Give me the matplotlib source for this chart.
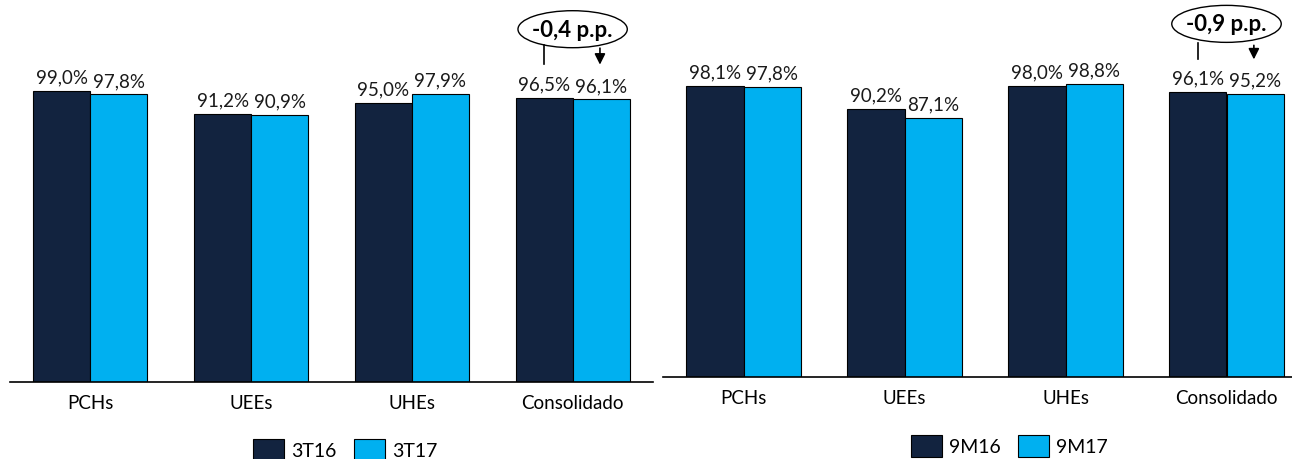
import matplotlib.pyplot as plt
from matplotlib.patches import Ellipse

categories = ['PCHs', 'UEEs', 'UHEs', 'Consolidado']

# left panel: quarter
q_labels = ['3T16', '3T17']
q16 = [99.0, 91.2, 95.0, 96.5]
q17 = [97.8, 90.9, 97.9, 96.1]
q_delta = '-0,4 p.p.'

# right panel: nine months
m_labels = ['9M16', '9M17']
m16 = [98.1, 90.2, 98.0, 96.1]
m17 = [97.8, 87.1, 98.8, 95.2]
m_delta = '-0,9 p.p.'

DARK = '#12233f'
CYAN = '#00b0f0'
W, H = 1292, 460

plt.rcParams['font.family'] = ['Lato', 'DejaVu Sans']


def fmt(v):
    return ('%.1f%%' % v).replace('.', ',')


def panel(fig, left_px, base_px, right_px, px_per_unit, a, b, labels, delta, ell_y, line_top, line_bot, arr_bot, leg_xy):
    ax = fig.add_axes([left_px / W, (H - base_px) / H, (right_px - left_px) / W, base_px / H])
    x = list(range(len(categories)))
    bw = 0.355
    ax.bar([i - bw / 2 for i in x], a, bw, color=DARK, edgecolor='black', linewidth=0.8, label=labels[0])
    ax.bar([i + bw / 2 for i in x], b, bw, color=CYAN, edgecolor='black', linewidth=0.8, label=labels[1])
    ax.set_xlim(-0.5, len(categories) - 0.5)
    ax.set_ylim(0, base_px / px_per_unit)
    for i in x:
        ax.annotate(fmt(a[i]), (i - bw / 2, a[i]), xytext=(0, 4), textcoords='offset points',
                    ha='center', va='bottom', fontsize=13.5, color='#1a1a1a')
        ax.annotate(fmt(b[i]), (i + bw / 2, b[i]), xytext=(0, 4), textcoords='offset points',
                    ha='center', va='bottom', fontsize=13.5, color='#1a1a1a')
    ax.set_xticks(x)
    ax.set_xticklabels(categories, fontsize=13.5)
    ax.tick_params(axis='x', length=0, pad=9)
    ax.set_yticks([])
    for s in ['left', 'right', 'top']:
        ax.spines[s].set_visible(False)
    ax.spines['bottom'].set_linewidth(1.2)

    # delta callout over Consolidado
    c = len(categories) - 1
    ax.add_patch(Ellipse((c, ell_y), 0.68, 37 / px_per_unit, facecolor='white',
                         edgecolor='black', linewidth=1, clip_on=False))
    ax.text(c, ell_y, delta, ha='center', va='center', fontsize=16, fontweight='bold', clip_on=False)
    ax.plot([c - 0.18, c - 0.18], [line_top, line_bot], color='black', linewidth=1.2, clip_on=False)
    ax.annotate('', xy=(c + 0.17, arr_bot), xytext=(c + 0.17, line_top),
                arrowprops=dict(arrowstyle='-|>', color='black', lw=1.2, mutation_scale=16))

    ax.legend(loc='center', bbox_to_anchor=(leg_xy[0] / W, 1 - leg_xy[1] / H), bbox_transform=fig.transFigure,
              ncol=2, frameon=False, fontsize=14, handlelength=1.6, handleheight=1.4,
              handletextpad=0.35, columnspacing=0.9)
    return ax


fig = plt.figure(figsize=(W / 100, H / 100), dpi=100)
panel(fig, 10, 383, 653, 2.94, q16, q17, q_labels, q_delta, 120.0, 114.5, 108.2, 107.0, (345, 451))
panel(fig, 663, 378, 1307, 2.97, m16, m17, m_labels, m_delta, 118.9, 112.6, 107.0, 106.0, (1009, 447))
fig.savefig('out.png', dpi=100)
